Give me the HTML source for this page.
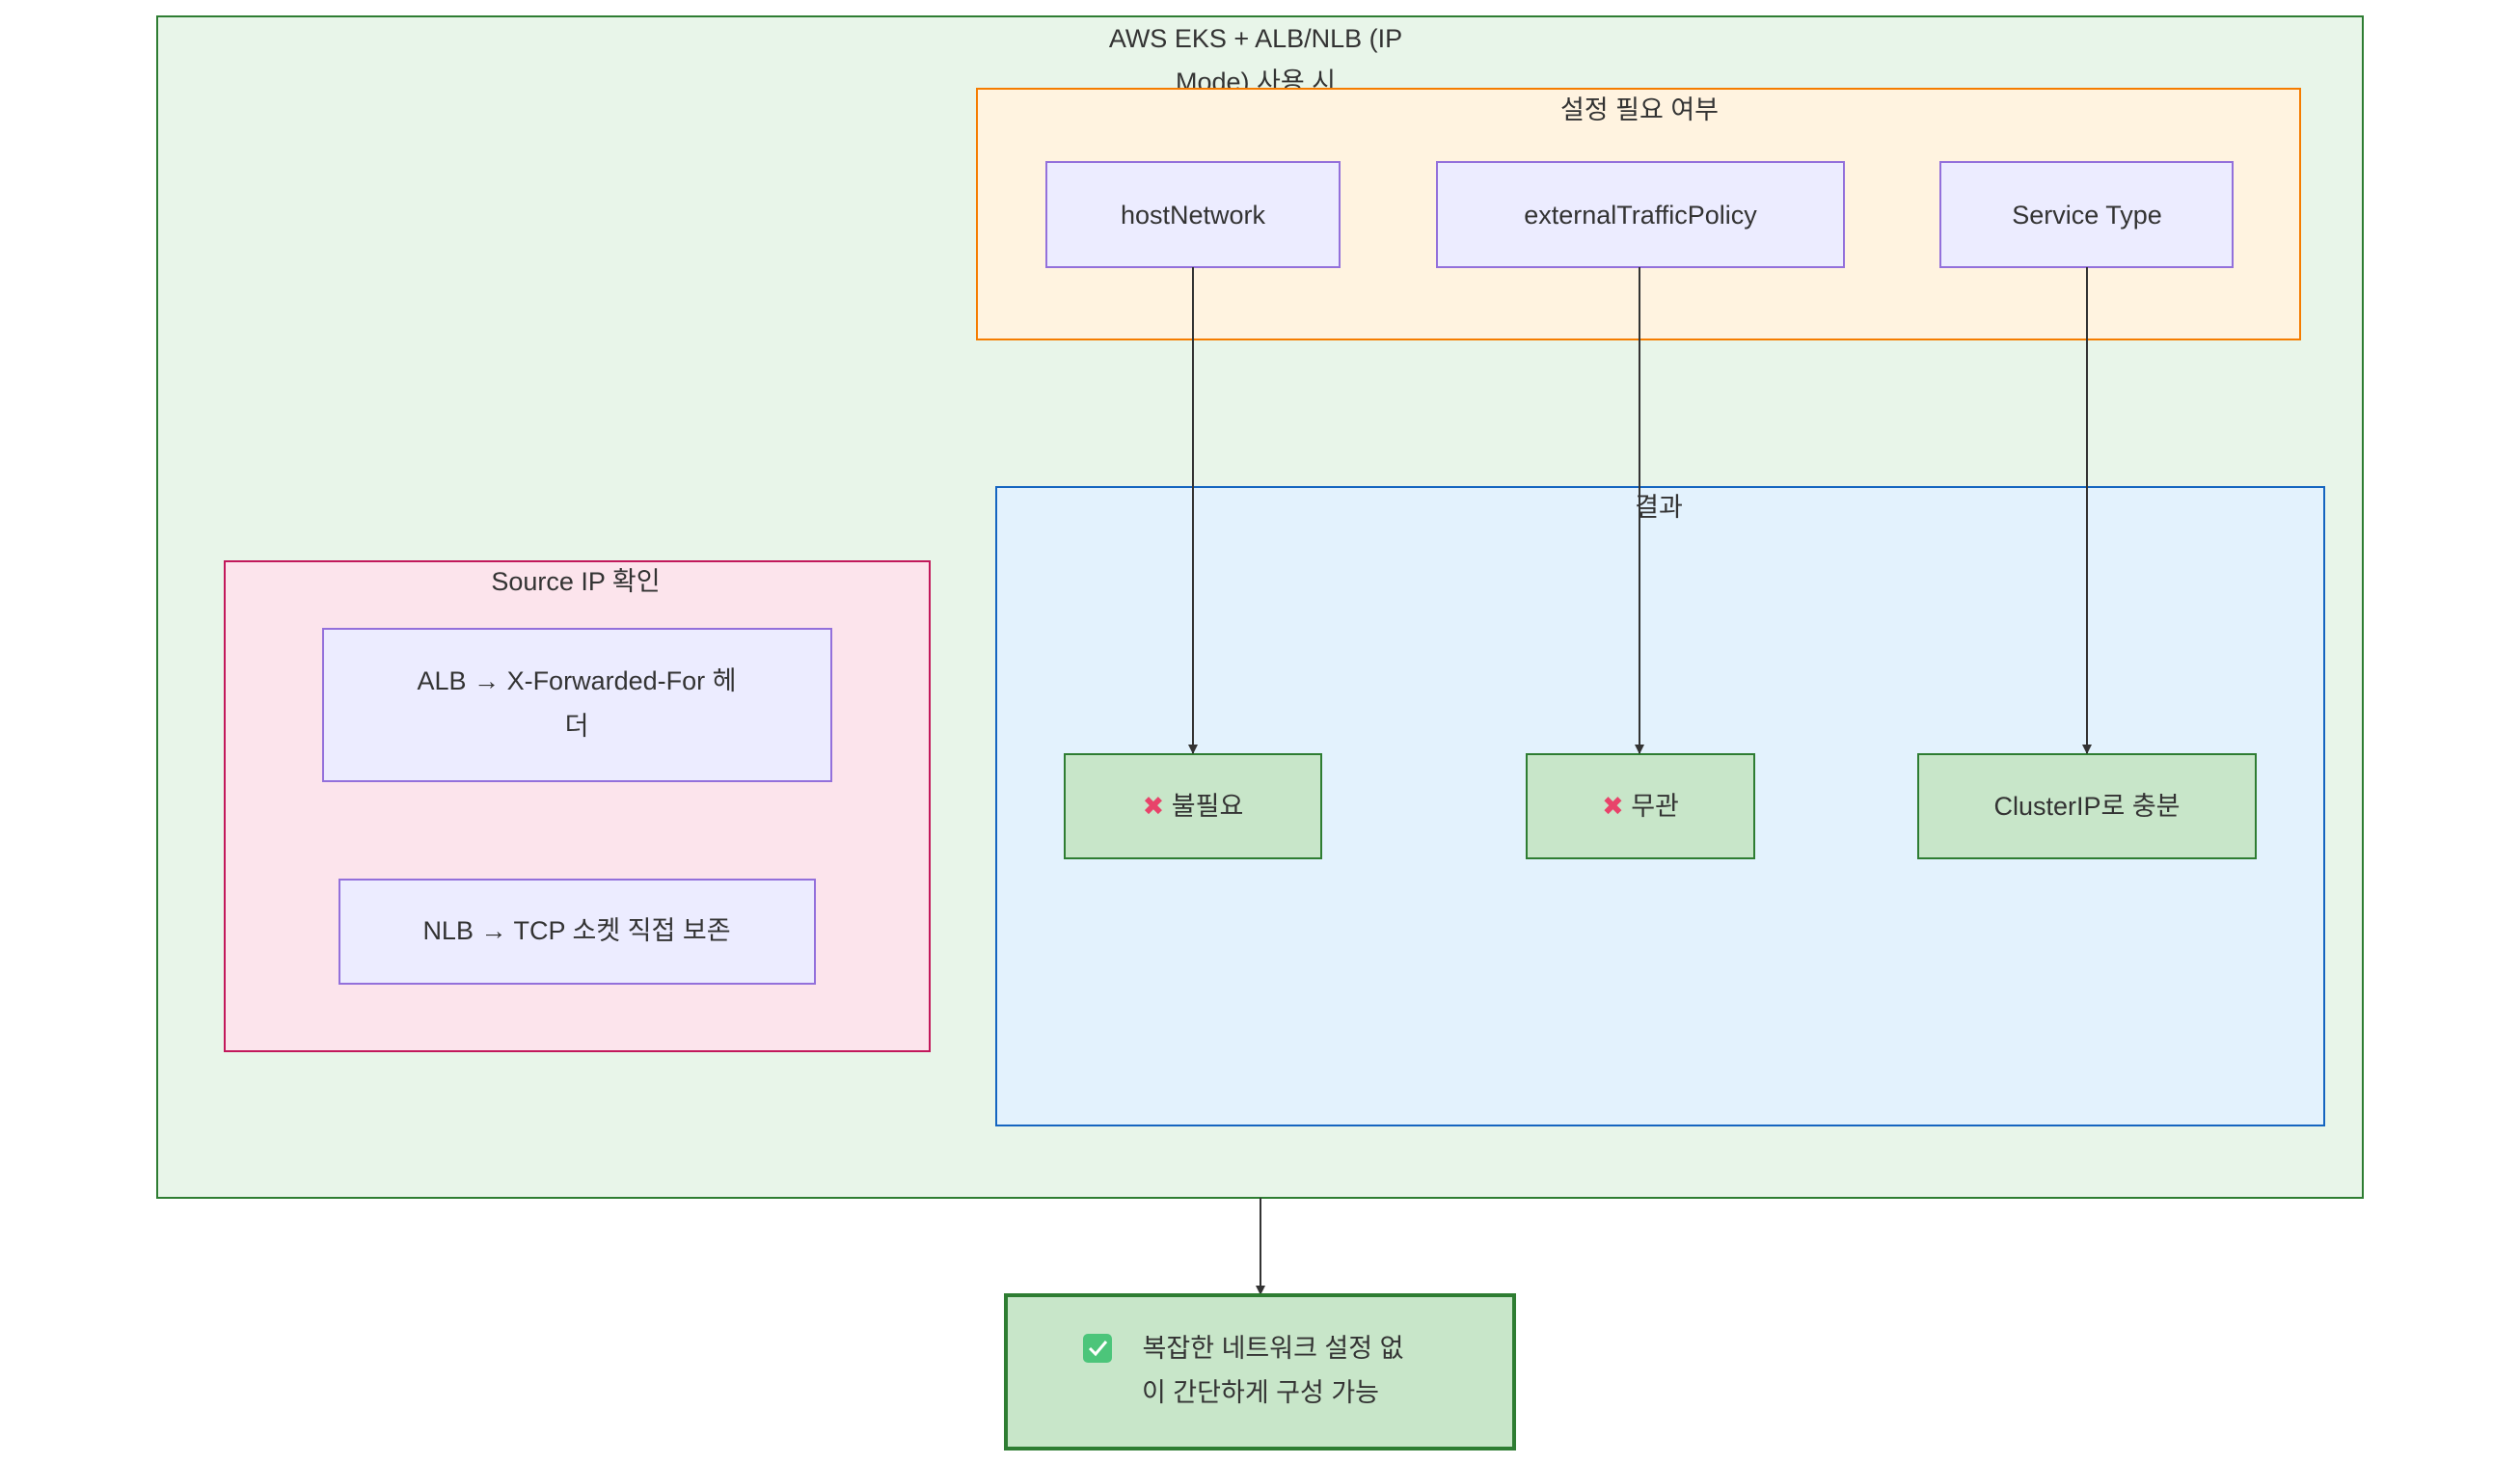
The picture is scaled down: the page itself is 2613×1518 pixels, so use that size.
<!DOCTYPE html>
<html><head><meta charset="utf-8"><style>
html,body{margin:0;padding:0;background:#fff;}
svg{display:block;}
text{font-family:"Liberation Sans","Noto Sans CJK KR",sans-serif;font-size:27px;fill:#333;}
</style></head><body>
<svg width="2613" height="1518" viewBox="0 0 2613 1518" xmlns="http://www.w3.org/2000/svg">
<defs><marker id="ah" markerWidth="10" markerHeight="10" refX="9" refY="5" orient="auto" markerUnits="userSpaceOnUse"><path d="M0,0 L10,5 L0,10 z" fill="#333"/></marker></defs>
<rect x="163" y="17" width="2287" height="1225" fill="#e8f5e9" stroke="#2e7d32" stroke-width="2"/>
<text x="1302" y="49" text-anchor="middle">AWS EKS + ALB/NLB (IP</text>
<text x="1302" y="94" text-anchor="middle">Mode) 사용 시</text>
<rect x="1013" y="92" width="1372" height="260" fill="#fff3e0" stroke="#f57c00" stroke-width="2"/>
<text x="1700" y="123" text-anchor="middle">설정 필요 여부</text>
<rect x="1033" y="505" width="1377" height="662" fill="#e3f2fd" stroke="#1565c0" stroke-width="2"/>
<text x="1720" y="535" text-anchor="middle">결과</text>
<rect x="233" y="582" width="731" height="508" fill="#fce4ec" stroke="#c2185b" stroke-width="2"/>
<text x="597" y="612" text-anchor="middle">Source IP 확인</text>
<g fill="#ececff" stroke="#9370db" stroke-width="2">
<rect x="1085" y="168" width="304" height="109"/>
<rect x="1490" y="168" width="422" height="109"/>
<rect x="2012" y="168" width="303" height="109"/>
<rect x="335" y="652" width="527" height="158"/>
<rect x="352" y="912" width="493" height="108"/>
</g>
<text x="1237" y="232" text-anchor="middle">hostNetwork</text>
<text x="1701" y="232" text-anchor="middle">externalTrafficPolicy</text>
<text x="2164" y="232" text-anchor="middle">Service Type</text>
<text x="598" y="715" text-anchor="middle">ALB → X-Forwarded-For 헤</text>
<text x="598" y="762" text-anchor="middle">더</text>
<text x="598" y="974" text-anchor="middle">NLB → TCP 소켓 직접 보존</text>
<g fill="#c8e6c9" stroke="#2e7d32" stroke-width="2">
<rect x="1104" y="782" width="266" height="108"/>
<rect x="1583" y="782" width="236" height="108"/>
<rect x="1989" y="782" width="350" height="108"/>
</g>
<text x="1237" y="845" text-anchor="middle"><tspan fill="#e8436a">✖</tspan> 불필요</text>
<text x="1701" y="845" text-anchor="middle"><tspan fill="#e8436a">✖</tspan> 무관</text>
<text x="2164" y="845" text-anchor="middle">ClusterIP로 충분</text>
<g stroke="#333" stroke-width="2" fill="none">
<line x1="1237" y1="277" x2="1237" y2="781" marker-end="url(#ah)"/>
<line x1="1700" y1="277" x2="1700" y2="781" marker-end="url(#ah)"/>
<line x1="2164" y1="277" x2="2164" y2="781" marker-end="url(#ah)"/>
<line x1="1307" y1="1242" x2="1307" y2="1342" marker-end="url(#ah)"/>
</g>
<rect x="1043" y="1343" width="527" height="159" fill="#c8e6c9" stroke="#2e7d32" stroke-width="4"/>
<rect x="1123" y="1383" width="30" height="30" rx="5" fill="#4cc57a"/>
<path d="M1130,1398 l6,6 l11,-13" stroke="#fff" stroke-width="3" fill="none"/>
<text x="1320" y="1407" text-anchor="middle">복잡한 네트워크 설정 없</text>
<text x="1307" y="1453" text-anchor="middle">이 간단하게 구성 가능</text>
</svg>
</body></html>
